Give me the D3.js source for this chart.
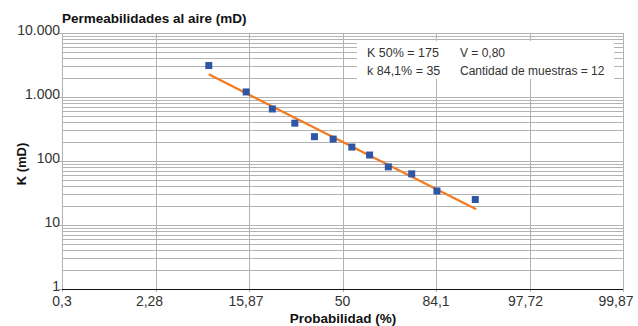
<!DOCTYPE html>
<html>
<head>
<meta charset="utf-8">
<script src="https://cdn.jsdelivr.net/npm/d3@7"></script>
<style>
  body { margin: 0; background: #fff; }
  text { font-family: "Liberation Sans", Arial, sans-serif; }
</style>
</head>
<body>
<svg id="chart" width="638" height="326"></svg>
<script>
// normal scores (sigma) of each sample and measured K in mD
const sampleZ = [-1.43, -1.03, -0.75, -0.51, -0.30, -0.10, 0.10, 0.29, 0.49, 0.74, 1.01, 1.42]
const sampleK = [3100, 1200, 650, 390, 240, 220, 165, 124, 81, 63, 34, 25]

// fitted line ends
const fitZ = [-1.43, 1.43]
const fitK = [2260, 17.6]

const probTicks = [-3, -2, -1, 0, 1, 2, 3]
const probLabels = ['0,3', '2,28', '15,87', '50', '84,1', '97,72', '99,87']
const kTicks = [1, 10, 100, 1000, 10000]
const kLabels = ['1', '10', '100', '1.000', '10.000']

const legendLines = [
    ['K 50% = 175', 'V = 0,80'],
    ['k 84,1% = 35', 'Cantidad de muestras = 12']
]

const svg = d3.select('#chart')
const plotL = 62, plotR = 623, plotT = 33, plotB = 289

const x = d3.scaleLinear().domain([-3, 3]).range([plotL, plotR])
const y = d3.scaleLog().domain([1, 10000]).range([plotB, plotT])

const gridColor = '#b3b3b3'

// minor log grid
const minor = []
for (let d = 1; d < 10000; d *= 10) {
    for (let m = 1; m <= 9; m++) minor.push(d * m)
}
minor.push(10000)

svg.append('g')
    .selectAll('line')
    .data(minor)
    .enter()
    .append('line')
    .attr('x1', plotL)
    .attr('x2', plotR)
    .attr('y1', (d) => Math.round(y(d)) + 0.5)
    .attr('y2', (d) => Math.round(y(d)) + 0.5)
    .attr('stroke', gridColor)
    .attr('stroke-width', 1)

// vertical grid
svg.append('g')
    .selectAll('line')
    .data(probTicks)
    .enter()
    .append('line')
    .attr('x1', (d) => Math.round(x(d)) + 0.5)
    .attr('x2', (d) => Math.round(x(d)) + 0.5)
    .attr('y1', plotT)
    .attr('y2', plotB + 3)
    .attr('stroke', gridColor)
    .attr('stroke-width', 1)

// y ticks
svg.append('g')
    .selectAll('line')
    .data(kTicks)
    .enter()
    .append('line')
    .attr('x1', plotL - 4)
    .attr('x2', plotL)
    .attr('y1', (d) => Math.round(y(d)) + 0.5)
    .attr('y2', (d) => Math.round(y(d)) + 0.5)
    .attr('stroke', gridColor)

svg.append('g')
    .selectAll('text')
    .data(kTicks)
    .enter()
    .append('text')
    .attr('x', plotL - 2)
    .attr('y', (d) => y(d) + 2)
    .attr('text-anchor', 'end')
    .attr('font-size', 14)
    .attr('fill', '#333')
    .text((d, i) => kLabels[i])

// x axis
svg.append('line')
    .attr('x1', plotL)
    .attr('x2', plotR)
    .attr('y1', plotB + 0.5)
    .attr('y2', plotB + 0.5)
    .attr('stroke', '#111')
    .attr('stroke-width', 1.2)

// labels sit a little left of their ticks in the original
const labelNudge = [0, -6, -3, 0, 0, -4, -7]
svg.append('g')
    .selectAll('text')
    .data(probTicks)
    .enter()
    .append('text')
    .attr('x', (d, i) => x(d) + labelNudge[i])
    .attr('y', 306)
    .attr('text-anchor', 'middle')
    .attr('font-size', 14)
    .attr('fill', '#333')
    .text((d, i) => probLabels[i])

// fit line
svg.append('line')
    .attr('x1', x(fitZ[0]))
    .attr('y1', y(fitK[0]))
    .attr('x2', x(fitZ[1]))
    .attr('y2', y(fitK[1]))
    .attr('stroke', '#f47a20')
    .attr('stroke-width', 2.2)

// samples
svg.append('g')
    .selectAll('rect')
    .data(sampleZ)
    .enter()
    .append('rect')
    .attr('x', (d) => x(d) - 3.5)
    .attr('y', (d, i) => y(sampleK[i]) - 3.5)
    .attr('width', 7)
    .attr('height', 7)
    .attr('fill', '#2f55a5')

// legend box
svg.append('rect')
    .attr('x', 357)
    .attr('y', 41)
    .attr('width', 257)
    .attr('height', 38)
    .attr('fill', '#fff')

legendLines.forEach((row, i) => {
    svg.append('text')
        .attr('x', 367)
        .attr('y', 57 + i * 17.5)
        .attr('font-size', 12.5)
        .attr('fill', '#333')
        .text(row[0])
    svg.append('text')
        .attr('x', 460)
        .attr('y', 57 + i * 17.5)
        .attr('font-size', 12)
        .attr('fill', '#333')
        .text(row[1])
})

// titles
svg.append('text')
    .attr('x', 62)
    .attr('y', 23)
    .attr('font-size', 13.5)
    .attr('font-weight', 'bold')
    .attr('fill', '#111')
    .text('Permeabilidades al aire (mD)')

svg.append('text')
    .attr('transform', 'translate(26,164) rotate(-90)')
    .attr('text-anchor', 'middle')
    .attr('font-size', 13)
    .attr('font-weight', 'bold')
    .attr('fill', '#111')
    .text('K (mD)')

svg.append('text')
    .attr('x', 343)
    .attr('y', 323)
    .attr('text-anchor', 'middle')
    .attr('font-size', 13.5)
    .attr('font-weight', 'bold')
    .attr('fill', '#111')
    .text('Probabilidad (%)')
</script>
</body>
</html>
